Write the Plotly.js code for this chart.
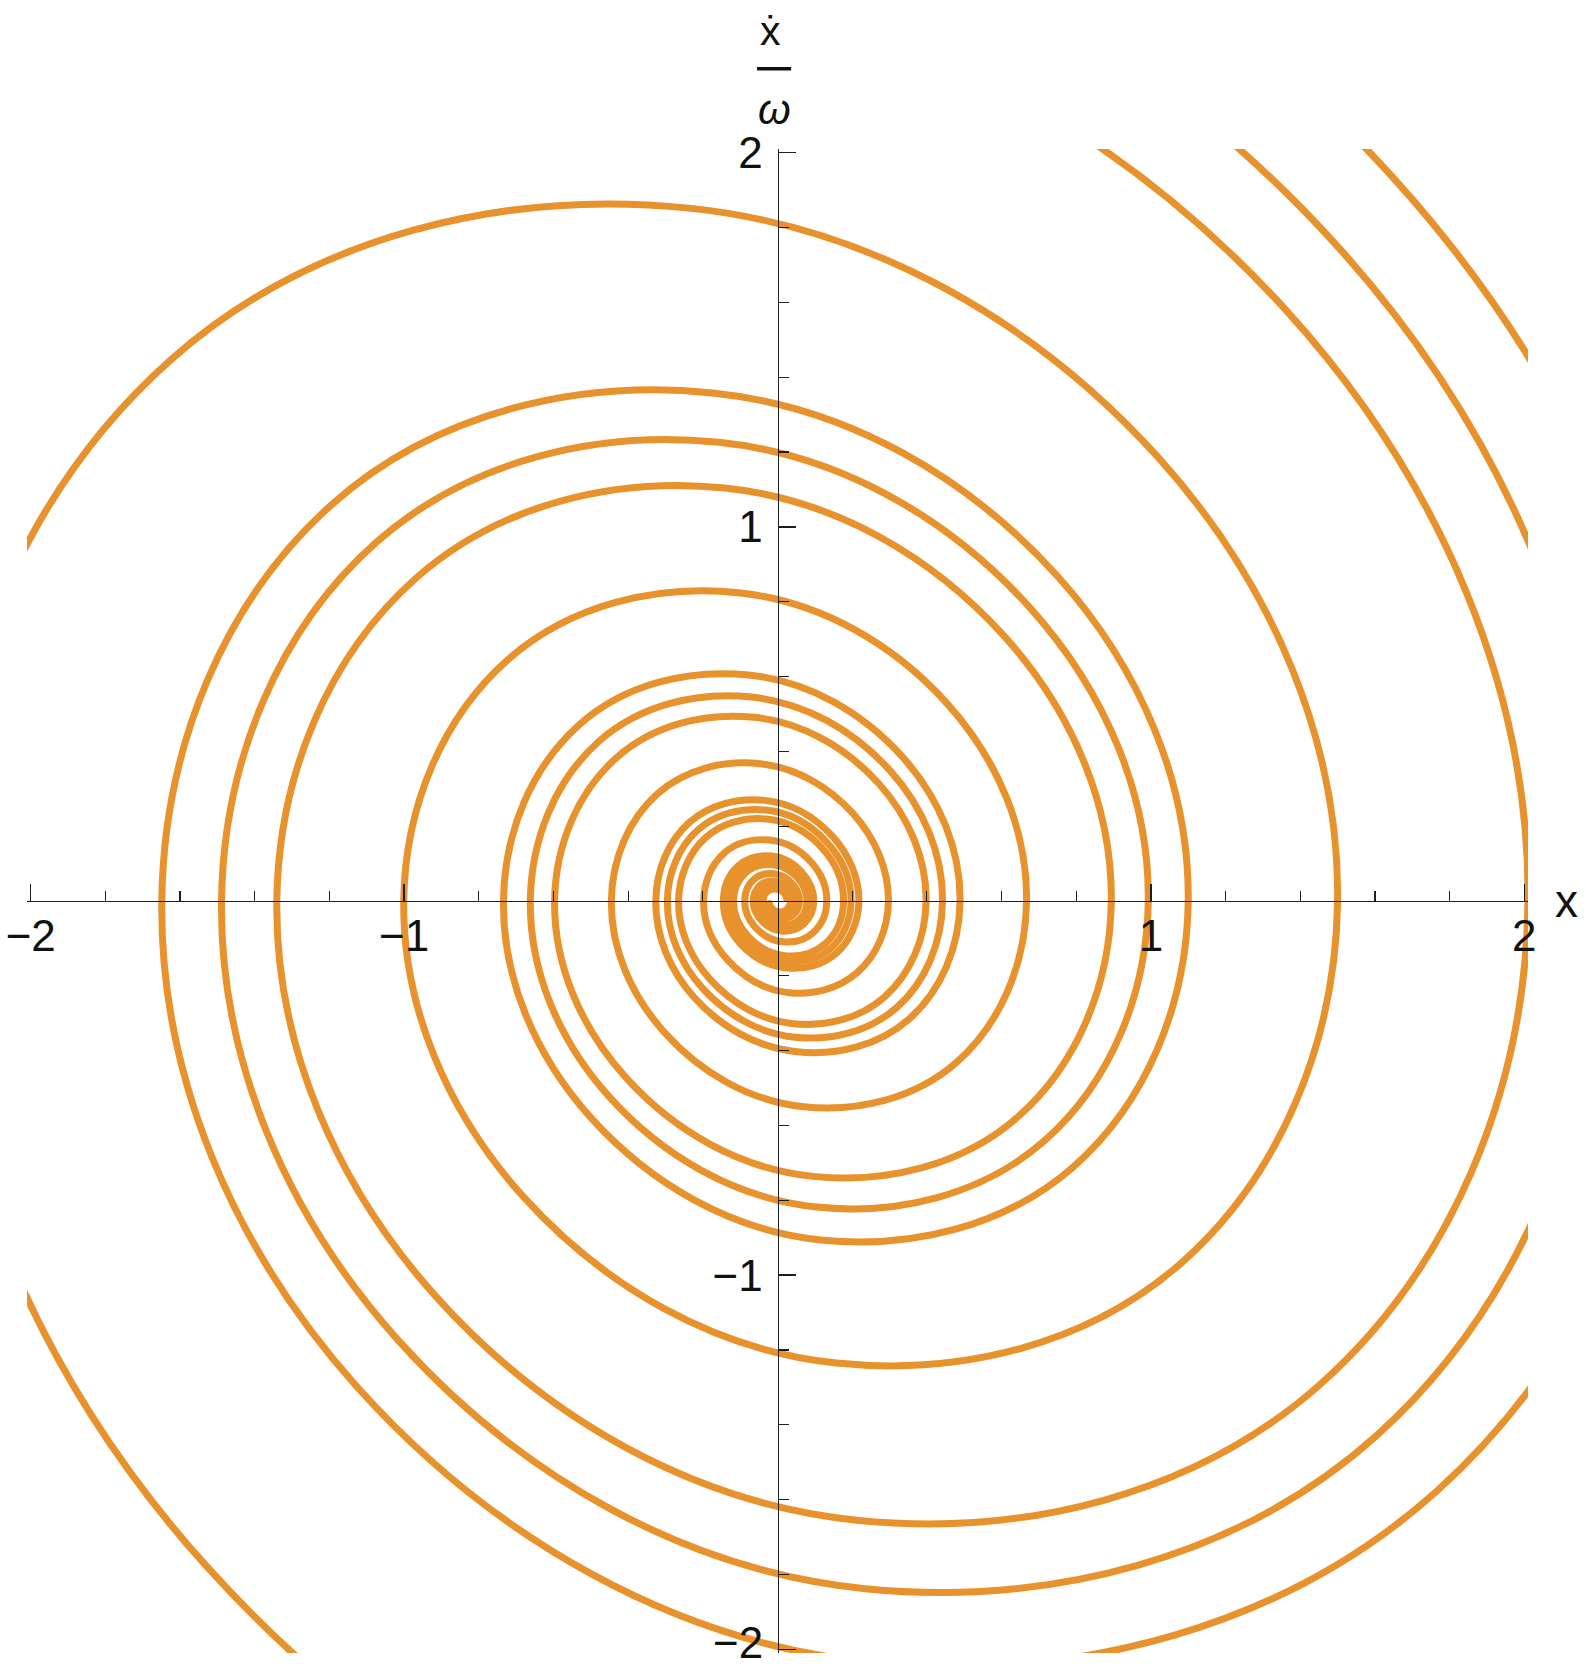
<!DOCTYPE html>
<html>
<head>
<meta charset="utf-8">
<script src="https://cdn.plot.ly/plotly-3.0.1.min.js"></script>
<style>html,body{margin:0;padding:0;background:#fff;}</style>
</head>
<body>
<div id="chart" style="width:1586px;height:1670px;"></div>
<script>
// Phase-plane trajectories (x, xdot/omega), four spirals
const t1x = [3.372, 2.432, 0.355, -1.533, -2.249, -1.622, -0.237, 1.022, 1.500, 1.082, 0.158, -0.682, -1.001, -0.722, -0.105, 0.455, 0.667, 0.481, 0.070, -0.303, -0.445, -0.321, -0.047, 0.202, 0.297, 0.214, 0.031, -0.135, -0.198, -0.143, -0.021, 0.090, 0.132, 0.095, 0.014, -0.060, -0.088, -0.064, -0.009, 0.040, 0.059, 0.042, 0.006, -0.027, -0.039, -0.028, -0.004, 0.018, 0.026];
const t1y = [0, -2.172, -2.776, -1.774, 0, 1.449, 1.852, 1.183, 0, -0.967, -1.235, -0.789, 0, 0.645, 0.824, 0.527, 0, -0.430, -0.550, -0.351, 0, 0.287, 0.367, 0.234, 0, -0.191, -0.245, -0.156, 0, 0.128, 0.163, 0.104, 0, -0.085, -0.109, -0.070, 0, 0.057, 0.073, 0.046, 0, -0.038, -0.048, -0.031, 0, 0.025, 0.032, 0.021, 0];

const t2x = [-2.983, -2.174, -0.314, 1.363, 2.010, 1.450, 0.212, -0.914, -1.341, -0.967, -0.141, 0.609, 0.894, 0.645, 0.094, -0.407, -0.597, -0.430, -0.063, 0.271, 0.398, 0.287, 0.042, -0.181, -0.265, -0.191, -0.028, 0.121, 0.177, 0.128, 0.019, -0.080, -0.118, -0.085, -0.012, 0.054, 0.079, 0.057, 0.008, -0.036, -0.053, -0.038, -0.006, 0.024, 0.035, 0.025, 0.004, -0.016, -0.023];
const t2y = [0, 1.942, 2.457, 1.578, 0, -1.295, -1.655, -1.058, 0, 0.864, 1.104, 0.706, 0, -0.576, -0.736, -0.471, 0, 0.384, 0.491, 0.314, 0, -0.256, -0.328, -0.209, 0, 0.171, 0.219, 0.140, 0, -0.114, -0.146, -0.093, 0, 0.076, 0.097, 0.062, 0, -0.051, -0.065, -0.041, 0, 0.034, 0.043, 0.028, 0, -0.023, -0.029, -0.019, 0];

const t3x = [-3.651, -2.634, -0.385, 1.660, 2.436, 1.766, 0.260, -1.124, -1.649, -1.190, -0.174, 0.750, 1.100, 0.794, 0.116, -0.500, -0.734, -0.529, -0.077, 0.334, 0.489, 0.353, 0.052, -0.223, -0.326, -0.236, -0.034, 0.148, 0.218, 0.157, 0.023, -0.099, -0.145, -0.105, -0.015, 0.066, 0.097, 0.070, 0.010, -0.044, -0.065, -0.047, -0.007, 0.029, 0.043, 0.031, 0.005, -0.020, -0.029];
const t3y = [0, 2.353, 3.007, 1.921, 0, -1.577, -2.036, -1.301, 0, 1.063, 1.358, 0.868, 0, -0.709, -0.906, -0.579, 0, 0.473, 0.604, 0.386, 0, -0.315, -0.403, -0.258, 0, 0.210, 0.269, 0.172, 0, -0.140, -0.179, -0.115, 0, 0.094, 0.120, 0.076, 0, -0.062, -0.080, -0.051, 0, 0.042, 0.053, 0.034, 0, -0.028, -0.036, -0.023, 0];

const t4x = [-3.313, -2.390, -0.349, 1.506, 2.210, 1.602, 0.235, -1.015, -1.489, -1.074, -0.157, 0.677, 0.993, 0.716, 0.105, -0.451, -0.662, -0.478, -0.070, 0.301, 0.442, 0.319, 0.047, -0.201, -0.295, -0.213, -0.031, 0.134, 0.197, 0.142, 0.021, -0.089, -0.131, -0.095, -0.014, 0.060, 0.088, 0.063, 0.009, -0.040, -0.058, -0.042, -0.006, 0.027, 0.039, 0.028, 0.004, -0.018, -0.026];
const t4y = [0, 2.134, 2.728, 1.743, 0, -1.431, -1.838, -1.175, 0, 0.959, 1.226, 0.783, 0, -0.640, -0.818, -0.523, 0, 0.427, 0.545, 0.349, 0, -0.285, -0.364, -0.233, 0, 0.190, 0.243, 0.155, 0, -0.127, -0.162, -0.103, 0, 0.085, 0.108, 0.069, 0, -0.056, -0.072, -0.046, 0, 0.038, 0.048, 0.031, 0, -0.025, -0.032, -0.020, 0];

const xTickVals = [-2, -1, 1, 2];
const xTickText = ['\u22122', '\u22121', '1', '2'];
const yTickVals = [-2, -1, 1, 2];
const yTickText = ['', '\u22121', '1', '2'];   // the bottom "−2" is placed as a note so it stays inside the page
const yBottomLabel = '\u22122';
const minorTickVals = [-1.8, -1.6, -1.4, -1.2, -0.8, -0.6, -0.4, -0.2, 0.2, 0.4, 0.6, 0.8, 1.2, 1.4, 1.6, 1.8];

const curveColor = '#E8922D';
const axisColor = '#1e1e1e';
const fontFam = 'Liberation Sans, Arial, Helvetica, sans-serif';

function trace(xs, ys) {
  return {
    x: xs, y: ys, type: 'scatter', mode: 'lines', hoverinfo: 'skip',
    line: {color: curveColor, width: 7, shape: 'spline', smoothing: 1.12, simplify: false}
  };
}
const data = [trace(t1x, t1y), trace(t2x, t2y), trace(t3x, t3y), trace(t4x, t4y)];

const R = 2.01;
function axisCommon(vals, text) {
  return {
    range: [-R, R], anchor: 'free', position: 0.5,
    showline: true, linecolor: axisColor, linewidth: 1.4,
    showgrid: false, zeroline: false,
    ticks: 'inside', tickmode: 'array', tickvals: vals, ticktext: text,
    ticklen: 17, tickwidth: 1.4, tickcolor: axisColor,
    minor: {tickmode: 'array', tickvals: minorTickVals, ticks: 'inside', ticklen: 10, tickwidth: 1.2, tickcolor: axisColor, showgrid: false},
    tickfont: {family: fontFam, size: 44, color: '#111'},
    ticklabeloverflow: 'allow',
    fixedrange: true
  };
}
const xa = axisCommon(xTickVals, xTickText);
xa.ticklabelstandoff = -4;
const ya = axisCommon(yTickVals, yTickText);
ya.ticklabelstandoff = 6;

const layout = {
  width: 1586, height: 1670,
  margin: {l: 27, r: 58, t: 149, b: 17},
  paper_bgcolor: '#ffffff', plot_bgcolor: '#ffffff',
  showlegend: false,
  xaxis: xa, yaxis: ya,
  annotations: [
    {x: 1.0259, y: 0.5, xref: 'paper', yref: 'paper', text: 'x', showarrow: false,
     xanchor: 'center', yanchor: 'middle', font: {family: fontFam, size: 46, color: '#111'}},
    {x: 0.4955, y: 1.0785, xref: 'paper', yref: 'paper', text: '\u1E8B', showarrow: false,
     xanchor: 'center', yanchor: 'middle', font: {family: fontFam, size: 41, color: '#111'}},
    {x: 0.4978, y: 1.0261, xref: 'paper', yref: 'paper', text: '<i>\u03C9</i>', showarrow: false,
     xanchor: 'center', yanchor: 'middle', font: {family: fontFam, size: 42, color: '#111'}},
    {x: 0.4915, y: -0.0108, xref: 'paper', yref: 'paper', text: yBottomLabel, showarrow: false,
     xanchor: 'right', yanchor: 'bottom', font: {family: fontFam, size: 44, color: '#111'}}
  ],
  shapes: [
    {type: 'line', xref: 'paper', yref: 'paper', x0: 0.4864, x1: 0.5091, y0: 1.0534, y1: 1.0534,
     line: {color: '#111', width: 3.5}}
  ]
};

Plotly.newPlot('chart', data, layout, {displayModeBar: false, staticPlot: true});
</script>
</body>
</html>
